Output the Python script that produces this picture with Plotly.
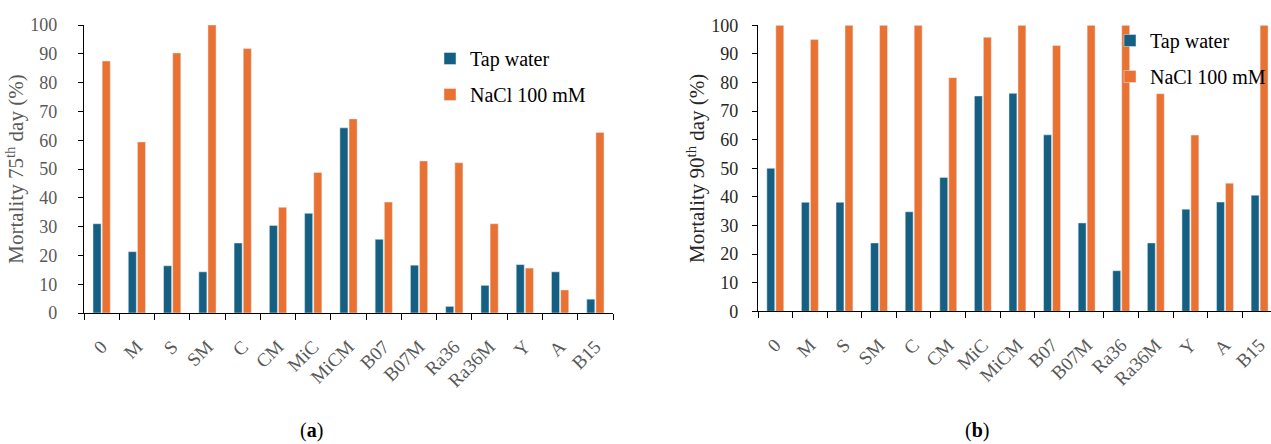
import plotly.graph_objects as go

categories = ["0", "M", "S", "SM", "C", "CM", "MiC", "MiCM", "B07", "B07M",
              "Ra36", "Ra36M", "Y", "A", "B15"]
tap_75 = [31.0, 21.3, 16.4, 14.3, 24.3, 30.4, 34.6, 64.3, 25.6, 16.6, 2.3, 9.6, 16.8, 14.3, 4.8]
nacl_75 = [87.5, 59.4, 90.3, 100.0, 91.8, 36.7, 48.8, 67.4, 38.5, 52.8, 52.2, 31.0, 15.6, 8.0, 62.7]
tap_90 = [50.0, 38.1, 38.1, 23.9, 34.8, 46.8, 75.3, 76.2, 61.7, 30.9, 14.2, 23.9, 35.7, 38.2, 40.6]
nacl_90 = [100.0, 95.0, 100.0, 100.0, 100.0, 81.7, 95.8, 100.0, 92.9, 100.0, 100.0, 76.1, 61.6, 44.8, 100.0]
y_ticks = list(range(0, 101, 10))

BLUE = "#156082"
ORANGE = "#E97132"
GREY = "#595959"
DARK = "#262626"
FONT = "Liberation Serif"
W, H = 1271, 444

fig = go.Figure()
fig.add_trace(go.Bar(x=categories, y=tap_75, name="Tap water", marker_color=BLUE,
                     xaxis="x", yaxis="y", legend="legend", legendgroup="a"))
fig.add_trace(go.Bar(x=categories, y=nacl_75, name="NaCl 100 mM", marker_color=ORANGE,
                     xaxis="x", yaxis="y", legend="legend", legendgroup="b"))
fig.add_trace(go.Bar(x=categories, y=tap_90, name="Tap water", marker_color=BLUE,
                     xaxis="x2", yaxis="y2", legend="legend2", legendgroup="c"))
fig.add_trace(go.Bar(x=categories, y=nacl_90, name="NaCl 100 mM", marker_color=ORANGE,
                     xaxis="x2", yaxis="y2", legend="legend2", legendgroup="d"))

xcommon = dict(type="category", tickson="boundaries", ticks="outside", ticklen=6,
               tickwidth=1.3, tickcolor="#000000", showline=True, linecolor="#000000",
               linewidth=1.3, tickangle=-45, ticklabelstandoff=14, automargin=False,
               tickfont=dict(family=FONT, size=19, color=GREY), showgrid=False,
               zeroline=False)
ycommon = dict(range=[0, 100], tickvals=y_ticks, ticks="outside", ticklen=5,
               tickwidth=1.3, tickcolor="#000000", showline=True, linecolor="#000000",
               linewidth=1.3, showgrid=False, zeroline=False, automargin=True)

legcommon = dict(font=dict(family=FONT, size=20, color="#000000"), bgcolor="rgba(0,0,0,0)",
                 yanchor="top", tracegroupgap=7, itemwidth=30)

fig.update_layout(
    width=W, height=H, margin=dict(l=0, r=0, t=0, b=0, autoexpand=False),
    paper_bgcolor="white", plot_bgcolor="white",
    barmode="group", bargap=0.48, bargroupgap=0.12,
    xaxis=dict(domain=[84 / W, 613 / W], anchor="y", range=[-0.5, 14.5], **xcommon),
    yaxis=dict(domain=[1 - 313 / H, 1 - 25 / H], anchor="x", ticklabelstandoff=17,
               tickfont=dict(family=FONT, size=18, color=GREY),
               title=dict(text="Mortality 75<sup>th</sup> day (%)", standoff=0,
                          font=dict(family=FONT, size=21, color=GREY)), **ycommon),
    xaxis2=dict(domain=[758 / W, 1.0], anchor="y2", range=[-0.5, 14.33], **xcommon),
    yaxis2=dict(domain=[1 - 311.3 / H, 1 - 25.3 / H], anchor="x2", ticklabelstandoff=10,
                tickfont=dict(family=FONT, size=18, color=DARK),
                title=dict(text="Mortality 90<sup>th</sup> day (%)", standoff=0,
                           font=dict(family=FONT, size=21, color=DARK)), **ycommon),
    legend=dict(x=430 / W, y=1 - 39 / H, xanchor="left", **legcommon),
    legend2=dict(x=1.0, y=1 - 21 / H, xanchor="right", **legcommon),
    showlegend=True,
    annotations=[
        dict(text="(<b>a</b>)", x=311 / W, y=1 - 430 / H, xref="paper", yref="paper",
             xanchor="center", yanchor="middle", showarrow=False,
             font=dict(family=FONT, size=20, color="#000000")),
        dict(text="(<b>b</b>)", x=977 / W, y=1 - 430 / H, xref="paper", yref="paper",
             xanchor="center", yanchor="middle", showarrow=False,
             font=dict(family=FONT, size=20, color="#000000")),
    ],
)

fig.write_html("out.html", config={"displayModeBar": False},
               post_script="document.body.style.margin='0';")
